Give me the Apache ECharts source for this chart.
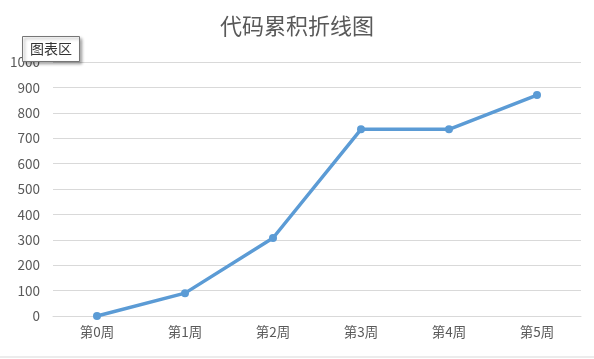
<!DOCTYPE html>
<html><head><meta charset="utf-8">
<script src="https://cdn.jsdelivr.net/npm/echarts@6/dist/echarts.min.js"></script>
<style>html,body{margin:0;padding:0;background:#fff}#c{width:594px;height:359px}</style>
</head><body><div id="c"></div>
<script>
const categories = ['第0周','第1周','第2周','第3周','第4周','第5周'];
const values = [0, 90, 307, 735, 735, 870];
const yMin = 0, yMax = 1000, yStep = 100;
const titleText = '代码累积折线图';
const boxLabel = '图表区';

const chart = echarts.init(document.getElementById('c'), null, {renderer:'canvas'});
chart.setOption({
  backgroundColor:'#fff',
  animation:false,
  title:{text:titleText,left:'center',top:10,textStyle:{fontFamily:'Noto Sans CJK SC',fontSize:22,fontWeight:'normal',color:'#595959'}},
  grid:{left:53,right:13,top:62,bottom:43},
  xAxis:{type:'category',data:categories,boundaryGap:true,
    axisLine:{show:true,lineStyle:{color:'#d9d9d9'}},axisTick:{show:false},
    axisLabel:{color:'#595959',fontSize:13.5,fontFamily:'Noto Sans CJK SC',margin:9}},
  yAxis:{type:'value',min:yMin,max:yMax,interval:yStep,
    axisLine:{show:false},axisTick:{show:false},
    splitLine:{lineStyle:{color:'#d9d9d9'}},
    axisLabel:{color:'#595959',fontSize:13.5,fontFamily:'Noto Sans CJK SC',margin:13,formatter:v=>String(v)}},
  series:[{type:'line',data:values,symbol:'circle',symbolSize:8,
    lineStyle:{color:'#5B9BD5',width:3.5},itemStyle:{color:'#5B9BD5'}}],
  graphic:[
    {type:'line',shape:{x1:0,y1:357,x2:594,y2:357},style:{stroke:'#d9d9d9',lineWidth:1}},
    {type:'rect',shape:{x:22.5,y:36.5,width:57,height:25},
     style:{fill:'#fff',stroke:'#767676',lineWidth:1,shadowBlur:3,shadowOffsetX:2,shadowOffsetY:2,shadowColor:'rgba(0,0,0,0.35)'},z:100},
    {type:'text',x:51,y:49,style:{text:boxLabel,fill:'#333',font:'14px "Noto Sans CJK SC"',align:'center',verticalAlign:'middle'},z:101}
  ]
});
</script></body></html>
